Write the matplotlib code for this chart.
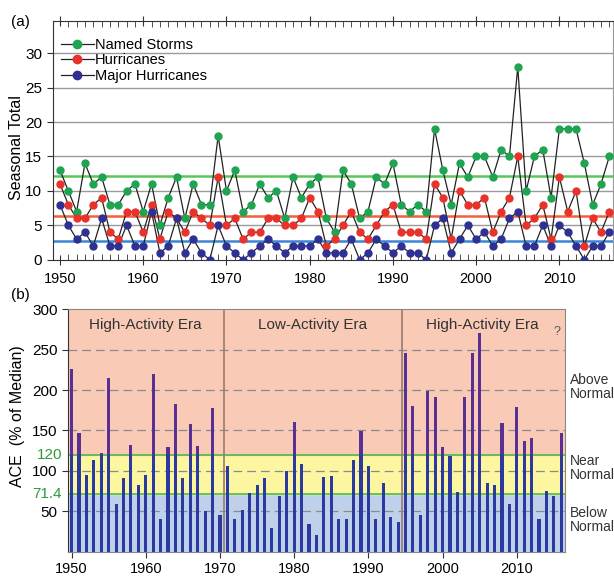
import matplotlib
matplotlib.use("Agg")
import matplotlib.pyplot as plt
from matplotlib.lines import Line2D
import numpy as np

plt.rcParams['font.family'] = ['Liberation Sans', 'DejaVu Sans']

years = list(range(1950, 2017))

named = [13, 10, 7, 14, 11, 12, 8, 8, 10, 11, 7, 11, 5, 9, 12, 6, 11, 8, 8, 18,
         10, 13, 7, 8, 11, 9, 10, 6, 12, 9, 11, 12, 6, 4, 13, 11, 6, 7, 12, 11,
         14, 8, 7, 8, 7, 19, 13, 8, 14, 12, 15, 15, 12, 16, 15, 28, 10, 15, 16, 9,
         19, 19, 19, 14, 8, 11, 15]
hurr = [11, 8, 6, 6, 8, 9, 4, 3, 7, 7, 4, 8, 3, 7, 6, 4, 7, 6, 5, 12,
        5, 6, 3, 4, 4, 6, 6, 5, 5, 6, 9, 7, 2, 3, 5, 7, 4, 3, 5, 7,
        8, 4, 4, 4, 3, 11, 9, 3, 10, 8, 8, 9, 4, 7, 9, 15, 5, 6, 8, 3,
        12, 7, 10, 2, 6, 4, 7]
major = [8, 5, 3, 4, 2, 6, 2, 2, 5, 2, 2, 7, 1, 2, 6, 1, 3, 1, 0, 5,
         2, 1, 0, 1, 2, 3, 2, 1, 2, 2, 2, 3, 1, 1, 1, 3, 0, 1, 3, 2,
         1, 2, 1, 1, 0, 5, 6, 1, 3, 5, 3, 4, 2, 3, 6, 7, 2, 2, 5, 2,
         5, 4, 2, 0, 2, 2, 4]
means = [12.1, 6.4, 2.7]

ace = [226, 147, 95, 113, 122, 215, 59, 91, 132, 83, 95, 220, 40, 129, 183, 91, 158, 131, 50, 178,
       45, 106, 40, 52, 73, 82, 91, 29, 69, 100, 160, 108, 34, 21, 93, 94, 40, 40, 114, 149,
       106, 40, 85, 43, 37, 246, 180, 45, 199, 191, 130, 119, 74, 191, 246, 270, 85, 82, 159, 59,
       179, 137, 141, 40, 75, 69, 147]

fig = plt.figure(figsize=(6.14, 5.76), dpi=100)

# ---- panel (a)
ax = fig.add_axes([0.0858, 0.549, 0.912, 0.415])
ax.set_xlim(1949.12, 2016.4)
ax.set_ylim(0, 34.7)
for yv in [5, 10, 15, 20, 25, 30]:
    ax.axhline(yv, color='#9a9a9a', lw=1.0, zorder=1)
ax.axhline(means[0], color='#5cc45a', lw=1.8, zorder=2)
ax.axhline(means[1], color='#f2603c', lw=1.8, zorder=2)
ax.axhline(means[2], color='#3a86d4', lw=1.8, zorder=2)

series = [(named, '#1fa552', 'Named Storms'),
          (hurr, '#e8322a', 'Hurricanes'),
          (major, '#2e3192', 'Major Hurricanes')]
for vals, col, lab in series:
    ax.plot(years, vals, color='#222222', lw=0.9, zorder=3)
    ax.plot(years, vals, ls='none', marker='o', ms=5, mfc=col, mec=col, zorder=4)

handles = [Line2D([], [], color='#222222', lw=0.9, marker='o', ms=6, mfc=c, mec=c)
           for _, c, _ in series]
ax.legend(handles, [s[2] for s in series], loc='upper left', frameon=False,
          fontsize=10.5, handlelength=2.2, handletextpad=0.1, labelspacing=0.1,
          borderaxespad=0.2, bbox_to_anchor=(0.0, 0.965))

ax.set_xticks(range(1950, 2011, 10))
ax.set_xticks(years, minor=True)
ax.set_yticks(range(0, 31, 5))
ax.tick_params(axis='x', which='major', direction='inout', length=7, labelsize=10.5,
               color='#333333', pad=5)
ax.tick_params(axis='x', which='minor', direction='in', length=4, color='#333333')
ax.tick_params(axis='y', direction='out', length=4, labelsize=11, color='#333333')
ax.tick_params(axis='x', which='both', top=True)
ax.set_ylabel('Seasonal Total', fontsize=11.5)
ax.yaxis.set_label_coords(-0.051, 0.47)
for s in ['left', 'bottom', 'top']:
    ax.spines[s].set_color('#333333')
ax.spines['right'].set_color('#999999')
fig.text(0.018, 0.962, '(a)', fontsize=11, va='center')

# ---- panel (b)
bx = fig.add_axes([0.111, 0.0422, 0.809, 0.421])
bx.set_xlim(1949.54, 2016.48)
bx.set_ylim(0, 300)
bx.axhspan(0, 71.4, color='#bfd0ea', zorder=0)
bx.axhspan(71.4, 120, color='#fdf6a0', zorder=0)
bx.axhspan(120, 300, color='#f9cbb7', zorder=0)
for yv in [50, 100, 150, 200, 250]:
    bx.axhline(yv, color='#8a8a8a', lw=0.9, ls=(0, (7, 4)), zorder=1)
bx.axhline(71.4, color='#4cbb47', lw=1.2, zorder=1)
bx.axhline(120, color='#4cbb47', lw=1.2, zorder=1)
for xv in [1970.5, 1994.5]:
    bx.axvline(xv, color='#9a7a70', lw=1.2, zorder=1)

low = [min(v, 120) for v in ace]
high = [max(v - 120, 0) for v in ace]
bx.bar(years, low, width=0.42, color='#2b3aa0', zorder=2)
bx.bar(years, high, bottom=low, width=0.42, color='#5a2f94', zorder=2)

bx.set_xticks(range(1950, 2011, 10))
bx.set_yticks([50, 100, 150, 200, 250, 300])
bx.tick_params(axis='x', direction='out', length=4, labelsize=10.5, color='#333333')
bx.tick_params(axis='y', direction='out', length=4, labelsize=11, color='#333333')
for s in bx.spines.values():
    s.set_color('#888888')
bx.spines['left'].set_color('#333333')
bx.set_ylabel('ACE  (% of Median)', fontsize=11.5)
bx.yaxis.set_label_coords(-0.087, 0.56)

tr = bx.get_yaxis_transform()
bx.text(-0.012, 120, '120', transform=tr, ha='right', va='center', color='#2e9a3c', fontsize=11)
bx.text(-0.012, 71.4, '71.4', transform=tr, ha='right', va='center', color='#2e9a3c', fontsize=11)

bx.text(1960, 280, 'High-Activity Era', ha='center', va='center', fontsize=11, color='#333333')
bx.text(1982.5, 280, 'Low-Activity Era', ha='center', va='center', fontsize=11, color='#333333')
bx.text(2005.3, 280, 'High-Activity Era', ha='center', va='center', fontsize=11, color='#333333')
bx.text(2015.4, 272, '?', ha='center', va='center', fontsize=9, color='#555555')

bx.text(1.01, 0.68, 'Above\nNormal', transform=bx.transAxes, ha='left', va='center',
        fontsize=10, color='#333333', linespacing=1.0)
bx.text(1.01, 0.345, 'Near\nNormal', transform=bx.transAxes, ha='left', va='center',
        fontsize=10, color='#333333', linespacing=1.0)
bx.text(1.01, 0.13, 'Below\nNormal', transform=bx.transAxes, ha='left', va='center',
        fontsize=10, color='#333333', linespacing=1.0)
fig.text(0.018, 0.487, '(b)', fontsize=11, va='center')

fig.savefig('out.png', dpi=100)
